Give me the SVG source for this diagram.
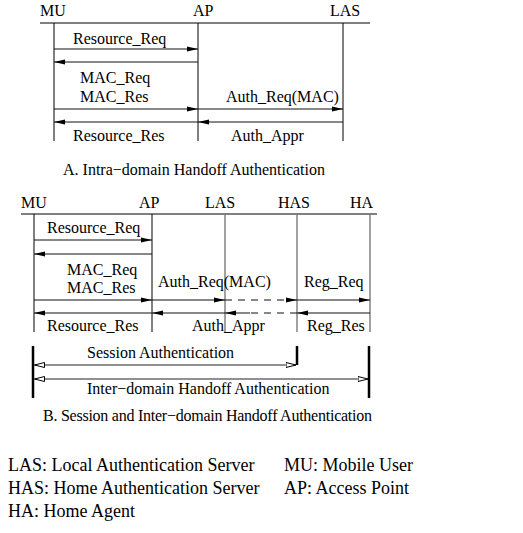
<svg xmlns="http://www.w3.org/2000/svg" width="523" height="533" viewBox="0 0 523 533">
<style>
text{font-family:"Liberation Serif","Times New Roman",serif;font-size:16px;fill:#000}
.leg{font-size:18px}
.top{stroke:#808080;stroke-width:2;fill:none}
.life{stroke:#000;stroke-width:1;fill:none}
.lifeg{stroke:#707070;stroke-width:1.3;fill:none}
.msg{stroke:#111;stroke-width:1;fill:none;marker-end:url(#ah)}
.dash{stroke-dasharray:7,6}
.bar{stroke:#000;stroke-width:2.5;fill:none}
.span{stroke:#222;stroke-width:1;fill:none;marker-start:url(#oh);marker-end:url(#oh)}
</style>
<defs>
<marker id="ah" markerUnits="userSpaceOnUse" markerWidth="12" markerHeight="6" refX="11" refY="3" orient="auto">
<path d="M0,0.5 L11,3 L0,5.5 Z" fill="#000"/>
</marker>
<marker id="oh" markerUnits="userSpaceOnUse" markerWidth="12" markerHeight="7" refX="10.5" refY="3.5" orient="auto-start-reverse">
<path d="M0.5,1 L10.5,3.5 L0.5,6 Z" fill="#fff" stroke="#000" stroke-width="1"/>
</marker>
</defs>

<!-- Part A -->
<g id="a-frame">
<line class="top" x1="40" y1="23" x2="370" y2="23"/>
</g>
<g id="a-mu"><text x="40" y="16">MU</text><line class="life" x1="54" y1="23" x2="54" y2="141"/></g>
<g id="a-ap"><text x="193" y="16">AP</text><line class="life" x1="198" y1="23" x2="198" y2="141"/></g>
<g id="a-las"><text x="330" y="16">LAS</text><line class="life" x1="343" y1="23" x2="343" y2="141"/></g>

<!-- Part B -->
<g id="b-frame">
<line class="top" x1="21" y1="214" x2="377" y2="214"/>
</g>
<g id="b-mu"><text x="21" y="208">MU</text><line class="life" x1="34" y1="214" x2="34" y2="332"/></g>
<g id="b-ap"><text x="139" y="208">AP</text><line class="life" x1="152" y1="214" x2="152" y2="332"/></g>
<g id="b-las"><text x="205" y="208">LAS</text><line class="lifeg" x1="225" y1="214" x2="225" y2="332"/></g>
<g id="b-has"><text x="278" y="208">HAS</text><line class="lifeg" x1="297" y1="214" x2="297" y2="332"/></g>
<g id="b-ha"><text x="350" y="208">HA</text><line class="lifeg" x1="370" y1="214" x2="370" y2="332"/></g>

<g id="b-bars">
<line class="bar" x1="33" y1="346" x2="33" y2="398"/>
<line class="bar" x1="297" y1="346" x2="297" y2="365"/>
<line class="bar" x1="369" y1="346" x2="369" y2="398"/>
</g>

<g id="connectors">
<!-- A -->
<line class="msg" x1="54" y1="49" x2="198" y2="49"/>
<line class="msg" x1="198" y1="62" x2="54" y2="62"/>
<line class="msg" x1="54" y1="109" x2="198" y2="109"/>
<line class="msg" x1="198" y1="109" x2="343" y2="109"/>
<line class="msg" x1="198" y1="122" x2="54" y2="122"/>
<line class="msg" x1="343" y1="122" x2="198" y2="122"/>
<!-- B -->
<line class="msg" x1="34" y1="240" x2="152" y2="240"/>
<line class="msg" x1="152" y1="254" x2="34" y2="254"/>
<line class="msg" x1="34" y1="300" x2="152" y2="300"/>
<line class="msg" x1="152" y1="300" x2="225" y2="300"/>
<line class="msg dash" x1="225" y1="300" x2="297" y2="300"/>
<line class="msg" x1="297" y1="300" x2="370" y2="300"/>
<line class="msg" x1="152" y1="313" x2="34" y2="313"/>
<line class="msg" x1="225" y1="313" x2="152" y2="313"/>
<line stroke="#111" stroke-width="1" stroke-dasharray="7,6" x1="297" y1="313" x2="249" y2="313"/>
<line class="msg" x1="250" y1="313" x2="225" y2="313"/>
<line class="msg" x1="370" y1="313" x2="297" y2="313"/>
<line class="span" x1="34.5" y1="365" x2="296" y2="365"/>
<line class="span" x1="34.5" y1="379" x2="368" y2="379"/>
</g>

<g id="labels">
<text x="73" y="44">Resource_Req</text>
<text x="80" y="83">MAC_Req</text>
<text x="80" y="102">MAC_Res</text>
<text x="226" y="102">Auth_Req(MAC)</text>
<text x="73" y="141">Resource_Res</text>
<text x="231" y="141">Auth_Appr</text>
<text x="63" y="175">A. Intra−domain Handoff Authentication</text>

<text x="47" y="233">Resource_Req</text>
<text x="67" y="275">MAC_Req</text>
<text x="67" y="293">MAC_Res</text>
<text x="158" y="287">Auth_Req(MAC)</text>
<text x="304" y="287">Reg_Req</text>
<text x="47" y="331">Resource_Res</text>
<text x="192" y="331">Auth_Appr</text>
<text x="307" y="331">Reg_Res</text>
<text x="87" y="358">Session Authentication</text>
<text x="87" y="394">Inter−domain Handoff Authentication</text>
<text x="43" y="421" textLength="329">B. Session and Inter−domain Handoff Authentication</text>
</g>

<g id="legend">
<text class="leg" x="8" y="471">LAS: Local Authentication Server</text>
<text class="leg" x="284" y="471">MU: Mobile User</text>
<text class="leg" x="8" y="494">HAS: Home Authentication Server</text>
<text class="leg" x="284" y="494">AP: Access Point</text>
<text class="leg" x="8" y="517">HA: Home Agent</text>
</g>
</svg>
